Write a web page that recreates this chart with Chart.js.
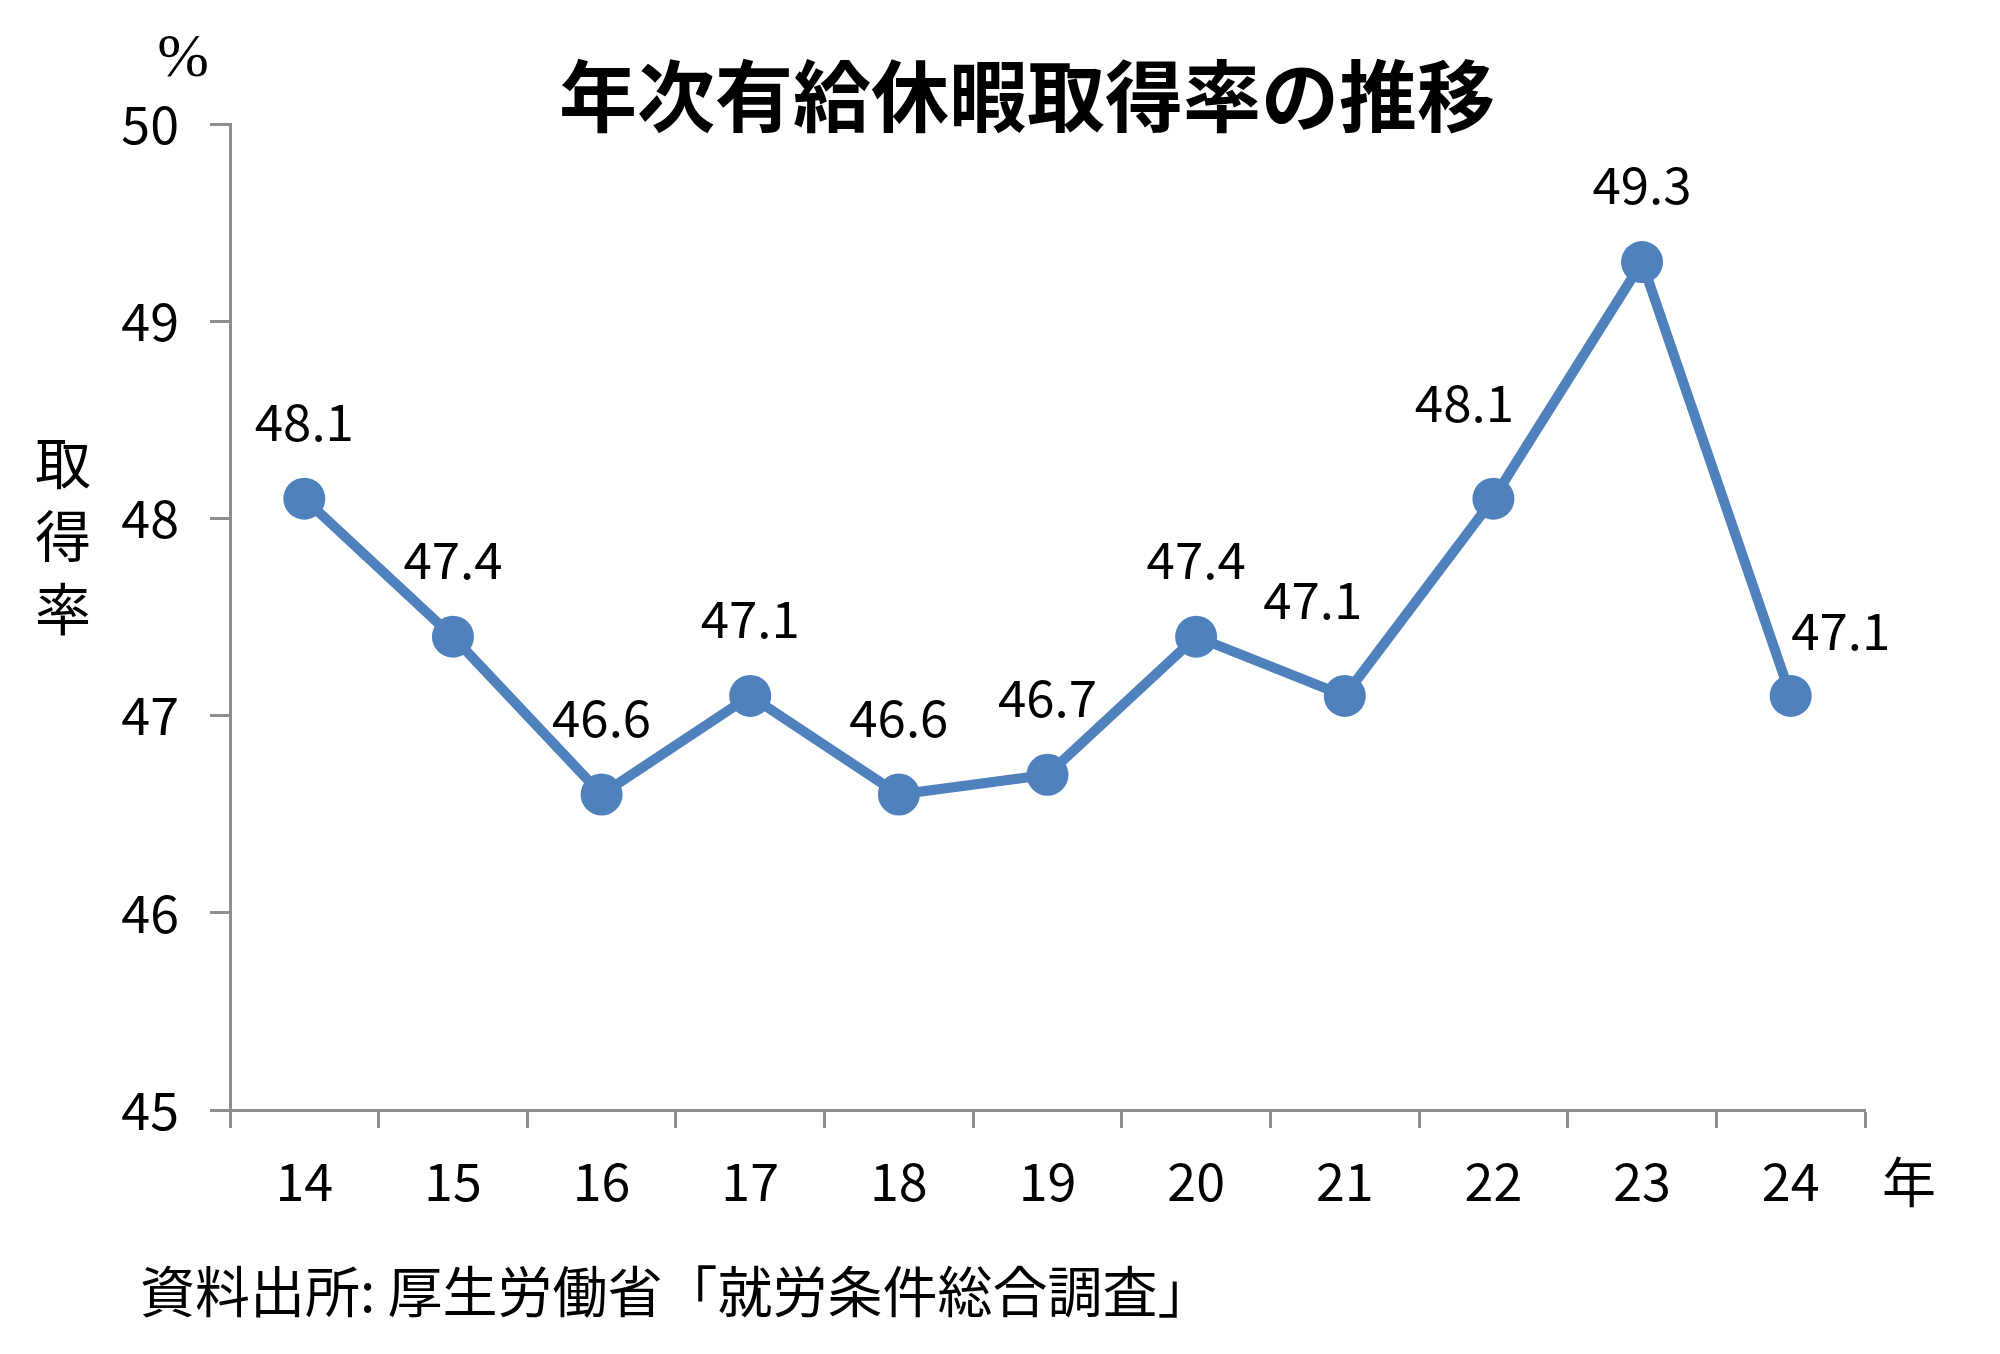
<!DOCTYPE html>
<html>
<head>
<meta charset="utf-8">
<script src="https://cdn.jsdelivr.net/npm/chart.js@4"></script>
<style>
  html, body { margin: 0; padding: 0; background: #ffffff; }
  #wrap { width: 2000px; height: 1354px; }
</style>
</head>
<body>
<div id="wrap"><canvas id="rateChart" width="2000" height="1354"></canvas></div>
<script>
const years = ["14", "15", "16", "17", "18", "19", "20", "21", "22", "23", "24"];
const rates = [48.1, 47.4, 46.6, 47.1, 46.6, 46.7, 47.4, 47.1, 48.1, 49.3, 47.1];
const yTicks = [45, 46, 47, 48, 49, 50];

const FONT = "'Noto Sans CJK JP', 'Noto Sans', sans-serif";
const BLUE = "#4f81bd";
const AXIS = "#8e8e8e";

// label nudges for the few values that sit beside the point
const labelShift = { 7: [-32, -96], 8: [-29, -96], 10: [50, -65] };

const extraText = {
  id: "extraText",
  afterDatasetsDraw(chart) {
    const ctx = chart.ctx;
    const meta = chart.getDatasetMeta(0);
    ctx.save();
    ctx.fillStyle = "#000";
    ctx.textAlign = "center";
    ctx.textBaseline = "middle";
    ctx.font = "51px " + FONT;
    meta.data.forEach((pt, i) => {
      const s = labelShift[i] || [0, -77];
      ctx.fillText(rates[i].toFixed(1), pt.x + s[0], pt.y + s[1]);
    });

    ctx.font = "bold 78px " + FONT;
    ctx.fillText("年次有給休暇取得率の推移", 1027, 96);

    ctx.font = "62px 'Liberation Serif', serif";
    ctx.fillText("%", 183, 60);

    ctx.font = "54px " + FONT;
    ctx.fillText("年", 1909, 1182);

    ctx.font = "56px " + FONT;
    ["取", "得", "率"].forEach((c, i) => ctx.fillText(c, 63, 463 + i * 73));

    ctx.textAlign = "left";
    ctx.font = "55px " + FONT;
    ctx.fillText("資料出所: 厚生労働省「就労条件総合調査」", 140, 1291);
    ctx.restore();
  }
};

new Chart(document.getElementById("rateChart"), {
  type: "line",
  data: {
    labels: years,
    datasets: [{
      data: rates,
      borderColor: BLUE,
      backgroundColor: BLUE,
      borderWidth: 10,
      pointRadius: 21,
      pointBackgroundColor: BLUE,
      pointBorderWidth: 0,
      tension: 0
    }]
  },
  options: {
    responsive: false,
    animation: false,
    devicePixelRatio: 1,
    layout: { padding: { top: 124, right: 135, left: 0, bottom: 0 } },
    plugins: {
      legend: { display: false },
      tooltip: { enabled: false }
    },
    scales: {
      x: {
        offset: true,
        afterFit: s => { s.height = 244; },
        grid: { offset: true, drawOnChartArea: false, tickLength: 18, tickColor: AXIS, tickWidth: 3 },
        border: { color: AXIS, width: 3 },
        ticks: { color: "#000", font: { family: FONT, size: 52 }, padding: 22 }
      },
      y: {
        min: 45,
        max: 50,
        afterFit: s => { s.width = 230; },
        afterBuildTicks: s => { s.ticks = yTicks.map(v => ({ value: v })); },
        grid: { drawOnChartArea: false, tickLength: 20, tickColor: AXIS, tickWidth: 3 },
        border: { color: AXIS, width: 3 },
        ticks: { color: "#000", font: { family: FONT, size: 52 }, padding: 31 }
      }
    }
  },
  plugins: [extraText]
});
</script>
</body>
</html>
